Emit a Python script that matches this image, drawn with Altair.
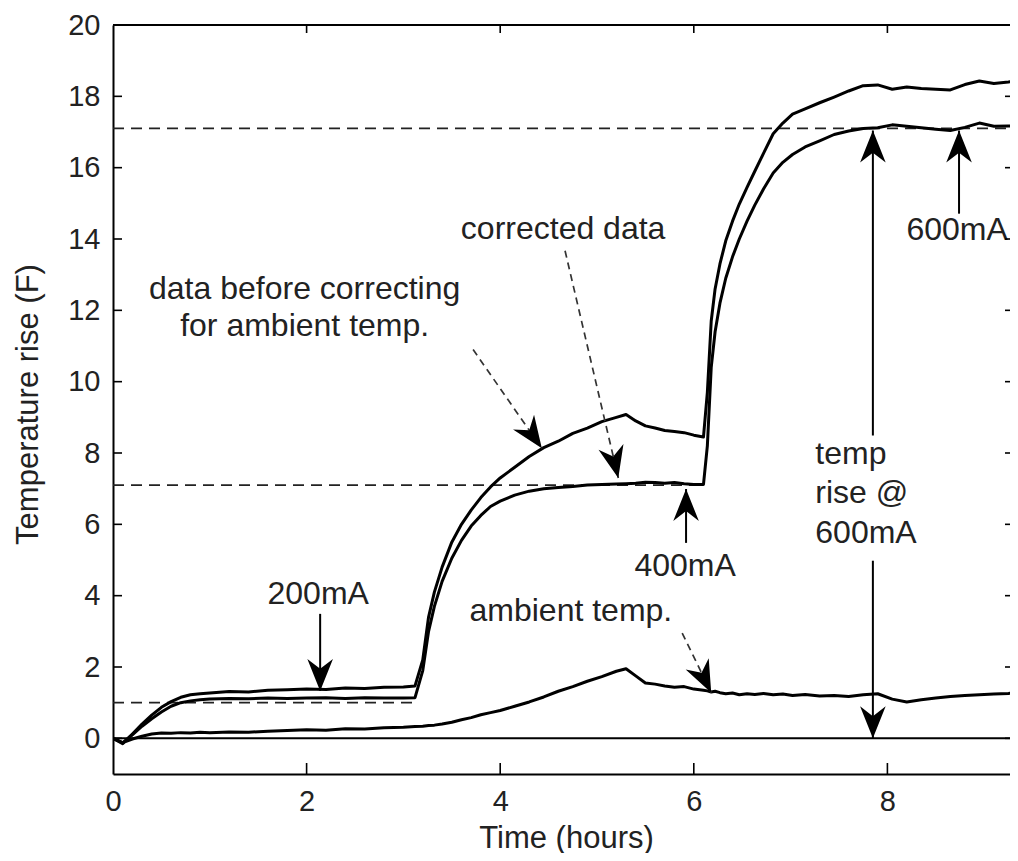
import math
import altair as alt
import pandas as pd

# ---------------- data ----------------
t = [0.0, 0.1, 0.2, 0.3, 0.4, 0.5, 0.6, 0.7, 0.8, 0.9,
     1.0, 1.2, 1.4, 1.6, 1.8, 2.0, 2.2, 2.4, 2.6, 2.8,
     3.0, 3.12, 3.2, 3.26, 3.32, 3.4, 3.5, 3.6, 3.7, 3.8,
     3.9, 4.0, 4.15, 4.3, 4.45, 4.6, 4.75, 4.9, 5.05, 5.2,
     5.3, 5.4, 5.5, 5.6, 5.7, 5.8, 5.9, 6.0, 6.1, 6.14,
     6.18, 6.22, 6.27, 6.33, 6.4, 6.47, 6.55, 6.63, 6.72, 6.82,
     6.92, 7.02, 7.15, 7.3, 7.45, 7.6, 7.75, 7.9, 8.05, 8.2,
     8.35, 8.5, 8.65, 8.8, 8.95, 9.1, 9.25, 9.35]

raw = [0.0, -0.15, 0.12, 0.4, 0.65, 0.87, 1.03, 1.15, 1.22, 1.25,
       1.27, 1.31, 1.30, 1.35, 1.36, 1.38, 1.37, 1.41, 1.40, 1.43,
       1.44, 1.47, 2.2, 3.4, 4.1, 4.8, 5.5, 6.0, 6.4, 6.75,
       7.05, 7.3, 7.6, 7.9, 8.15, 8.33, 8.55, 8.7, 8.88, 9.0,
       9.08, 8.9, 8.76, 8.7, 8.63, 8.6, 8.57, 8.5, 8.45, 9.7,
       11.7, 12.6, 13.3, 13.95, 14.5, 14.98, 15.45, 15.9, 16.4, 16.95,
       17.25, 17.5, 17.65, 17.82, 17.98, 18.15, 18.3, 18.32, 18.2, 18.26,
       18.22, 18.2, 18.18, 18.33, 18.43, 18.36, 18.4, 18.44]

corrected = [0.0, -0.13, 0.1, 0.34, 0.55, 0.74, 0.9, 1.0, 1.05, 1.08,
             1.1, 1.12, 1.11, 1.13, 1.12, 1.13, 1.14, 1.12, 1.14, 1.13,
             1.13, 1.14, 1.9, 3.0, 3.7, 4.4, 5.05, 5.55, 5.95, 6.25,
             6.5, 6.65, 6.82, 6.93, 7.0, 7.03, 7.06, 7.1, 7.12, 7.13,
             7.14, 7.15, 7.18, 7.17, 7.15, 7.17, 7.14, 7.12, 7.12, 8.2,
             10.4, 11.4, 12.2, 12.9, 13.5, 14.0, 14.5, 14.95, 15.4, 15.85,
             16.15, 16.37, 16.58, 16.75, 16.93, 17.03, 17.1, 17.12, 17.2, 17.16,
             17.12, 17.08, 17.04, 17.13, 17.25, 17.16, 17.17, 17.15]

ambient = [0.0, -0.12, -0.02, 0.06, 0.12, 0.15, 0.14, 0.16, 0.15, 0.17,
           0.16, 0.18, 0.17, 0.2, 0.22, 0.24, 0.23, 0.27, 0.26, 0.3,
           0.31, 0.33, 0.34, 0.36, 0.37, 0.4, 0.45, 0.52, 0.58, 0.66,
           0.72, 0.78, 0.9, 1.02, 1.16, 1.32, 1.45, 1.6, 1.73, 1.88,
           1.95, 1.75, 1.55, 1.52, 1.47, 1.43, 1.45, 1.38, 1.35, 1.33,
           1.3, 1.32, 1.28, 1.25, 1.27, 1.22, 1.25, 1.23, 1.26, 1.22,
           1.24, 1.2, 1.23, 1.19, 1.2, 1.17, 1.22, 1.25, 1.1, 1.02,
           1.08, 1.13, 1.17, 1.2, 1.22, 1.24, 1.26, 1.28]

# reference (dashed) levels
ref_levels = [17.1, 7.1, 1.0]
ref_end = [9.35, 6.1, 3.12]

# solid arrows: x, shaft start, tip
solid_x = [2.14, 5.92, 8.74, 7.85, 7.85]
solid_from = [3.49, 5.48, 14.71, 8.49, 4.98]
solid_tip = [1.33, 6.99, 17.04, 17.04, 0.0]

# dashed arrows: start and tip
dash_x0 = [3.72, 4.67, 5.88]
dash_y0 = [10.9, 13.67, 2.95]
dash_x1 = [4.43, 5.22, 6.18]
dash_y1 = [8.13, 7.3, 1.28]

# labels
c_labels = ["data before correcting\nfor ambient temp.", "corrected data",
            "200mA", "400mA", "ambient temp.", "600mA"]
c_x = [1.98, 4.65, 2.12, 5.91, 4.73, 8.72]
c_y = [12.33, 14.01, 3.77, 4.56, 3.30, 13.96]
l_labels = ["temp\nrise @\n600mA"]
l_x = [7.255]
l_y = [7.70]

x_ticks = [0, 2, 4, 6, 8]
y_ticks = list(range(0, 21, 2))

# ---------------- layout ----------------
PXX = 96.8            # pixels per hour
W, H = 897, 749
X_MAX = W / PXX
PXY = H / 21.0
FONT = "Liberation Sans"

xs = alt.Scale(domain=[0, X_MAX], nice=False, zero=False)
ys = alt.Scale(domain=[-1, 20], nice=False, zero=False)
x_axis = alt.Axis(values=x_ticks, title="Time (hours)", labelFlush=False,
                  titleX=453, titleY=73, titleBaseline="alphabetic",
                  titleAlign="center")
y_axis = alt.Axis(values=y_ticks, title="Temperature rise (F)",
                  titleX=-76, titleY=379, titleAngle=270,
                  titleBaseline="alphabetic", titleAlign="center")


def X(field):
    return alt.X(field, scale=xs, axis=x_axis)


def Y(field):
    return alt.Y(field, scale=ys, axis=y_axis)


n = len(t)
curves_df = pd.DataFrame({
    "t": t * 3,
    "v": raw + corrected + ambient,
    "s": ["raw"] * n + ["corrected"] * n + ["ambient"] * n,
})

curves = alt.Chart(curves_df).mark_line(
    color="black", strokeWidth=3, strokeJoin="round", clip=True
).encode(x=X("t:Q"), y=Y("v:Q"), detail="s:N")

ref_df = pd.DataFrame({"y": ref_levels, "x0": [0] * 3, "x1": ref_end})
ref_lines = alt.Chart(ref_df).mark_rule(
    color="#222", strokeWidth=1.8, strokeDash=[11, 7], clip=True
).encode(x=X("x0:Q"), x2="x1:Q", y=Y("y:Q"))

zero_df = pd.DataFrame({"y": [0.0], "x0": [0.0], "x1": [9.35]})
zero_line = alt.Chart(zero_df).mark_rule(color="black", strokeWidth=2, clip=True).encode(
    x=X("x0:Q"), x2="x1:Q", y=Y("y:Q"))

solid_df = pd.DataFrame({"x": solid_x, "y0": solid_from, "y1": solid_tip})
solid_shafts = alt.Chart(solid_df).mark_rule(color="black", strokeWidth=2).encode(
    x=X("x:Q"), y=Y("y0:Q"), y2="y1:Q")

dash_df = pd.DataFrame({"x0": dash_x0, "y0": dash_y0, "x1": dash_x1, "y1": dash_y1})
dash_shafts = alt.Chart(dash_df).mark_rule(
    color="#333", strokeWidth=1.7, strokeDash=[7, 5]
).encode(x=X("x0:Q"), x2="x1:Q", y=Y("y0:Q"), y2="y1:Q")


def head_angle(xa, ya, xb, yb):
    dx = (xb - xa) * PXX
    dy = -(yb - ya) * PXY
    return math.degrees(math.atan2(dx, -dy)) % 360


hx, hy, ha = [], [], []
for x, y0, y1 in zip(solid_x, solid_from, solid_tip):
    hx.append(x); hy.append(y1); ha.append(head_angle(x, y0, x, y1))
for x0, y0, x1, y1 in zip(dash_x0, dash_y0, dash_x1, dash_y1):
    hx.append(x1); hy.append(y1); ha.append(head_angle(x0, y0, x1, y1))
heads_df = pd.DataFrame({"x": hx, "y": hy, "a": ha})
HEAD = "M0,0 L0.8,2 L0,1.38 L-0.8,2 Z"
heads = alt.Chart(heads_df).mark_point(
    shape=HEAD, filled=True, color="black", opacity=1, size=1024, strokeWidth=0
).encode(x=X("x:Q"), y=Y("y:Q"), angle=alt.Angle("a:Q", scale=None))

ctext_df = pd.DataFrame({"x": c_x, "y": c_y, "label": c_labels})
ctext = alt.Chart(ctext_df).mark_text(
    align="center", baseline="alphabetic", font=FONT, fontSize=32,
    color="#222", lineBreak="\n", lineHeight=37
).encode(x=X("x:Q"), y=Y("y:Q"), text="label:N")

ltext_df = pd.DataFrame({"x": l_x, "y": l_y, "label": l_labels})
ltext = alt.Chart(ltext_df).mark_text(
    align="left", baseline="alphabetic", font=FONT, fontSize=32,
    color="#222", lineBreak="\n", lineHeight=39.5
).encode(x=X("x:Q"), y=Y("y:Q"), text="label:N")

# inward ticks and top frame line
yt_df = pd.DataFrame({"v": y_ticks[:-1]})
xt_df = pd.DataFrame({"v": x_ticks[1:]})
left_ticks = alt.Chart(yt_df).mark_rule(color="black", strokeWidth=1.6).encode(
    y=Y("v:Q"), x=alt.value(0), x2=alt.value(9))
right_ticks = alt.Chart(yt_df).mark_rule(color="black", strokeWidth=1.6).encode(
    y=Y("v:Q"), x=alt.value(W - 5), x2=alt.value(W))
bottom_ticks = alt.Chart(xt_df).mark_rule(color="black", strokeWidth=1.6).encode(
    x=X("v:Q"), y=alt.value(H - 11), y2=alt.value(H))
top_ticks = alt.Chart(xt_df).mark_rule(color="black", strokeWidth=1.6).encode(
    x=X("v:Q"), y=alt.value(0), y2=alt.value(8))
top_frame = alt.Chart(pd.DataFrame({"v": [0]})).mark_rule(
    color="black", strokeWidth=2).encode(
    x=alt.value(0), x2=alt.value(W), y=alt.value(0))

chart = alt.layer(
    ref_lines, zero_line, curves, solid_shafts, dash_shafts, heads,
    ctext, ltext, left_ticks, right_ticks, bottom_ticks, top_ticks, top_frame,
).properties(
    width=W, height=H,
    autosize=alt.AutoSizeParams(type="none"),
    padding={"left": 105, "top": 17, "right": 0, "bottom": 79},
    background="white",
).configure_view(stroke=None).configure_axis(
    domainColor="black", domainWidth=2, ticks=False, grid=False,
    labelFont=FONT, labelFontSize=29, labelColor="#222", labelPadding=13,
    titleFont=FONT, titleFontSize=31, titleColor="#222", titleFontWeight="normal",
)

chart.save("out.html", embed_options={"renderer": "svg", "actions": False})
